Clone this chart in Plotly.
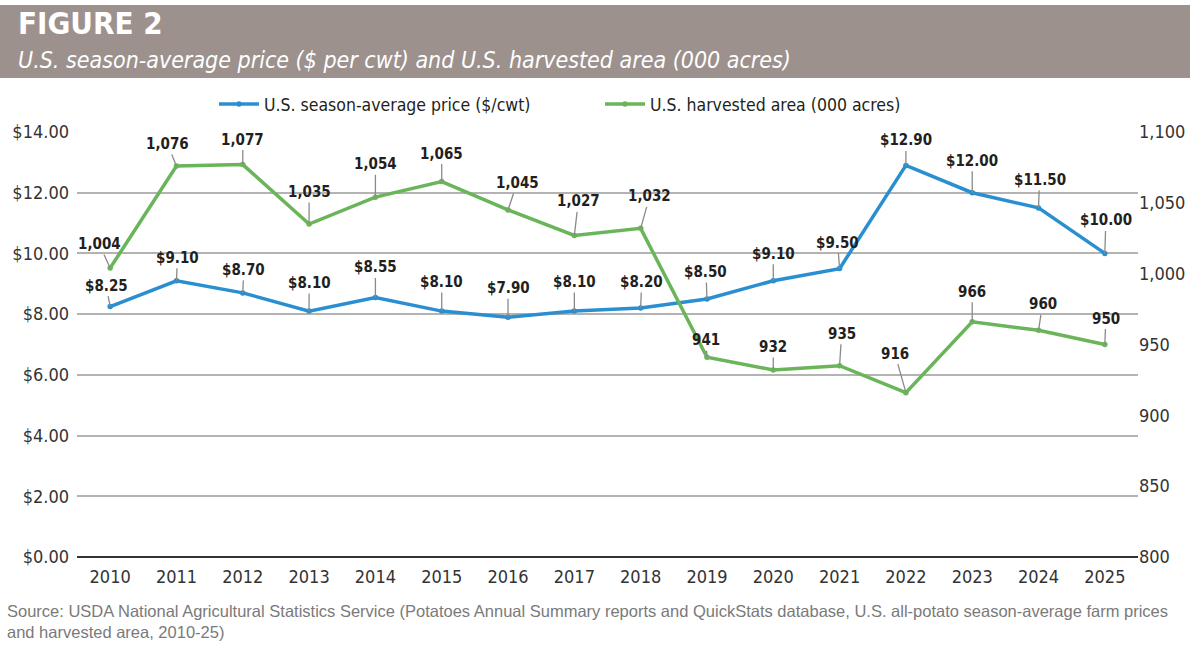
import plotly.graph_objects as go

years = [str(y) for y in range(2010, 2026)]
price = [8.25, 9.10, 8.70, 8.10, 8.55, 8.10, 7.90, 8.10, 8.20, 8.50, 9.10, 9.50, 12.90, 12.00, 11.50, 10.00]
area = [1004, 1076, 1077, 1035, 1054, 1065, 1045, 1027, 1032, 941, 932, 935, 916, 966, 960, 950]

# label offsets (pixels) for data labels
price_off = [(-4, -21), (1, -23), (1, -23), (0, -28), (0, -30), (0, -29), (0, -29), (0, -29), (1, -26), (-1, -27),
             (0, -27), (-2, -26), (0, -25), (0, -32), (1, -28), (1, -33)]
area_off = [(-11, -24), (-9, -22), (0, -25), (0, -32), (0, -33), (0, -28), (9, -27), (4, -34), (9, -32), (-1, -17),
            (0, -23), (2, -32), (-11, -39), (0, -30), (4, -26), (1, -26)]

W, H = 1200, 654
L, R, T, B = 77, 62, 132, 97
pw, ph = W - L - R, H - T - B

def px(x):
    return (x - L) / pw

def py(y):
    return (H - B - y) / ph

NUM_FONT = "DejaVu Sans Condensed, Liberation Sans Narrow, Roboto, Arial, sans-serif"
BLUE = "#2a8fd0"
GREEN = "#6ab45a"

fig = go.Figure()
fig.add_trace(go.Scatter(x=years, y=price, name="U.S. season-average price ($/cwt)",
                         mode="lines+markers", line=dict(color=BLUE, width=3.5),
                         marker=dict(size=5.5, color=BLUE), yaxis="y"))
fig.add_trace(go.Scatter(x=years, y=area, name="U.S. harvested area (000 acres)",
                         mode="lines+markers", line=dict(color=GREEN, width=3.5),
                         marker=dict(size=5.5, color=GREEN), yaxis="y2"))

annotations = []
for i, (v, (dx, dy)) in enumerate(zip(price, price_off)):
    annotations.append(dict(x=i, y=v, xref="x", yref="y", text=f"<b>${v:.2f}</b>",
                            showarrow=True, arrowhead=0, arrowwidth=1.3, arrowcolor="#8a8a8a",
                            ax=dx, ay=dy, standoff=0,
                            font=dict(family=NUM_FONT, size=15, color="#231f20")))
for i, (v, (dx, dy)) in enumerate(zip(area, area_off)):
    annotations.append(dict(x=i, y=v, xref="x", yref="y2", text=f"<b>{v:,}</b>",
                            showarrow=True, arrowhead=0, arrowwidth=1.3, arrowcolor="#8a8a8a",
                            ax=dx, ay=dy, standoff=0,
                            font=dict(family=NUM_FONT, size=15, color="#231f20")))

# header texts
annotations.append(dict(x=px(16), y=py(23), xref="paper", yref="paper", xanchor="left", yanchor="middle",
                        text="<b>FIGURE 2</b>", showarrow=False,
                        font=dict(family=NUM_FONT, size=31, color="white")))
annotations.append(dict(x=px(16), y=py(60), xref="paper", yref="paper", xanchor="left", yanchor="middle",
                        text="<i>U.S. season-average price ($ per cwt) and U.S. harvested area (000 acres)</i>",
                        showarrow=False,
                        font=dict(family=NUM_FONT, size=23, color="white")))
# source
annotations.append(dict(x=px(5), y=py(600), xref="paper", yref="paper", xanchor="left", yanchor="top",
                        align="left",
                        text="Source: USDA National Agricultural Statistics Service (Potatoes Annual Summary reports and QuickStats database, U.S. all-potato season-average farm prices<br>and harvested area, 2010-25)",
                        showarrow=False,
                        font=dict(family="Liberation Sans, Arial, sans-serif", size=16.5, color="#7a7a7a")))

shapes = [dict(type="rect", xref="paper", yref="paper", x0=px(0), x1=px(1190), y0=py(78), y1=py(5),
               fillcolor="#9c918d", line=dict(width=0), layer="below")]

fig.update_layout(
    width=W, height=H,
    margin=dict(l=L, r=R, t=T, b=B),
    paper_bgcolor="white", plot_bgcolor="white",
    showlegend=True,
    legend=dict(orientation="h", x=px(214), xanchor="left", y=py(104), yanchor="middle",
                font=dict(family=NUM_FONT, size=17.5, color="#231f20"),
                itemwidth=40, traceorder="normal", entrywidth=331, entrywidthmode="pixels"),
    xaxis=dict(type="category", range=[-0.5, 15.5], autorange=False, showgrid=False, showline=False, ticks="",
               ticklabelstandoff=7,
               tickfont=dict(family=NUM_FONT, size=18, color="#333333"), fixedrange=True),
    yaxis=dict(range=[0, 14], autorange=False, dtick=2, tickformat="$.2f", showgrid=True, gridcolor="#b3b3b3", gridwidth=2,
               zeroline=True, zerolinecolor="#333333", zerolinewidth=2, showline=False, ticks="",
               ticklabelstandoff=7,
               tickfont=dict(family=NUM_FONT, size=18, color="#333333")),
    yaxis2=dict(range=[800, 1100], autorange=False, dtick=50, overlaying="y", side="right", showgrid=False,
                zeroline=False, showline=False, ticks="", tickformat=",",
                tickfont=dict(family=NUM_FONT, size=18, color="#333333")),
    annotations=annotations,
    shapes=shapes,
)

fig.write_html("out.html")
